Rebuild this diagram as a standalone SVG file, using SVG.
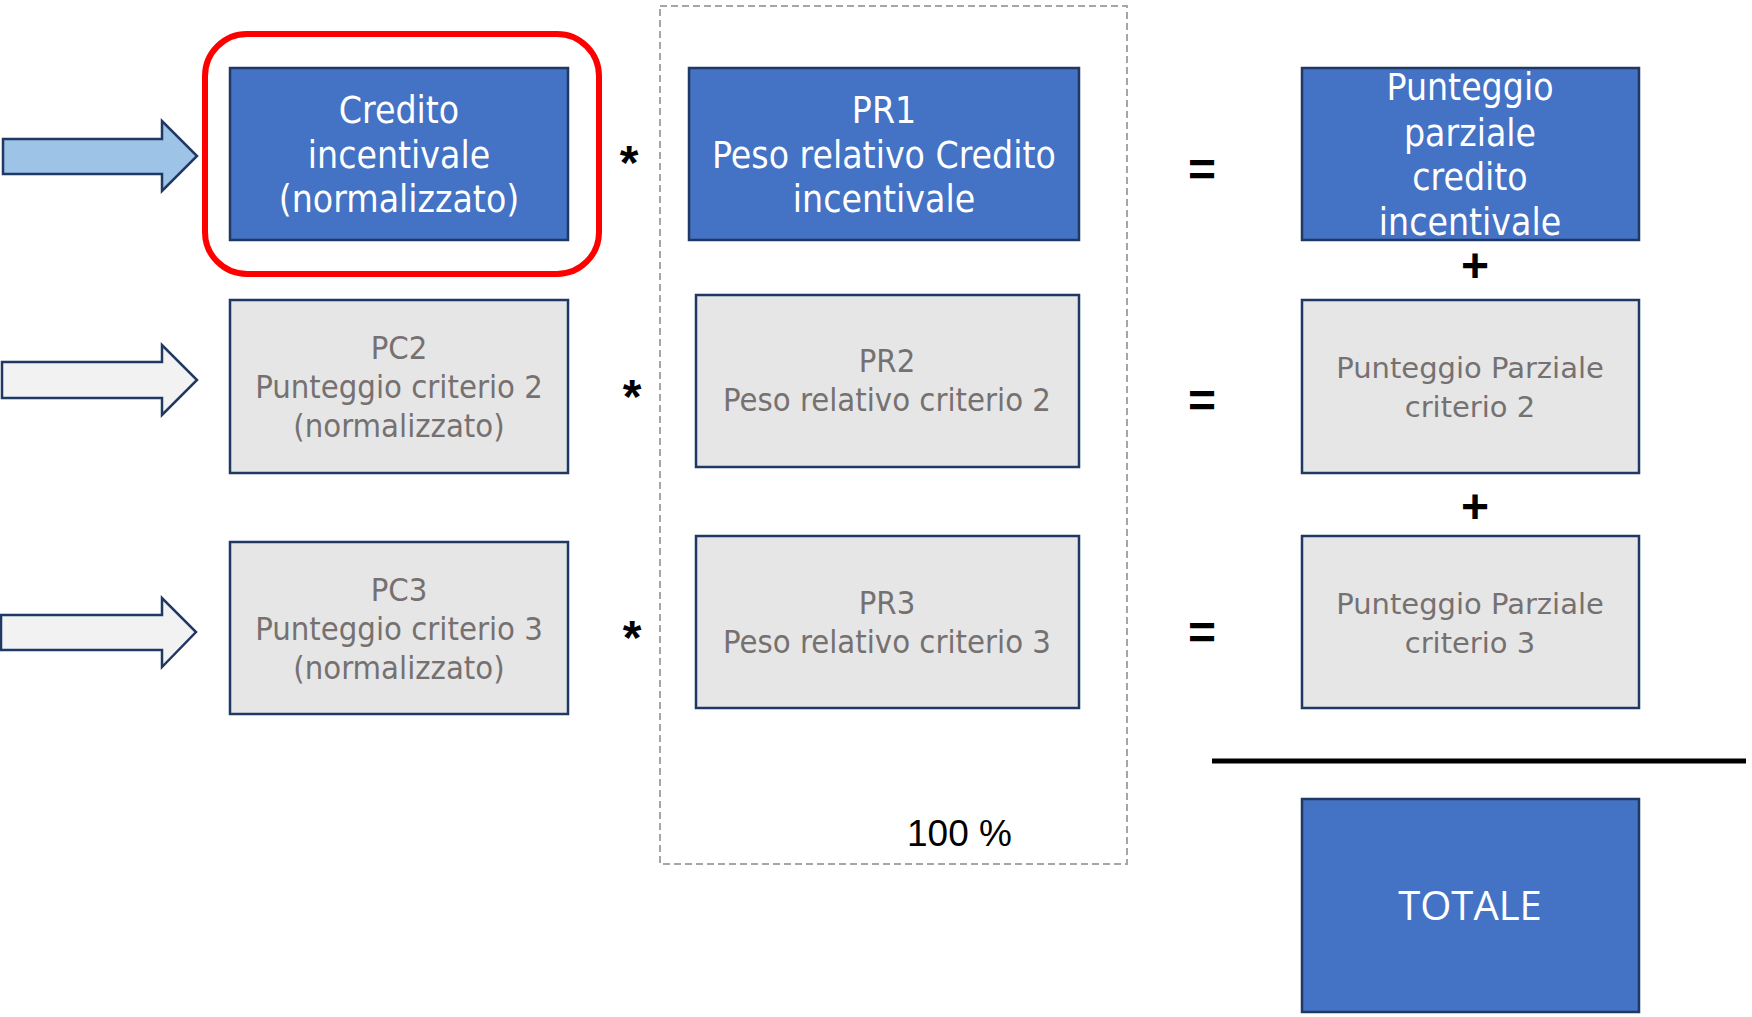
<svg xmlns="http://www.w3.org/2000/svg" width="1752" height="1017" viewBox="0 0 1752 1017">
<style>
.blue{fill:#4472C4;stroke:#1F3864;stroke-width:2.5}
.gray{fill:#E6E6E6;stroke:#1F3864;stroke-width:2.5}
.tb{font-family:"DejaVu Sans Condensed","DejaVu Sans",sans-serif;font-size:37px;fill:#FFFFFF;text-anchor:middle}
.tg{font-family:"DejaVu Sans Condensed","DejaVu Sans",sans-serif;font-size:32.5px;fill:#767171;text-anchor:middle}
.tp{font-family:"DejaVu Sans",sans-serif;font-size:29px;fill:#767171;text-anchor:middle}
.op{font-family:"Liberation Sans",Arial,sans-serif;font-size:48px;font-weight:bold;fill:#000;text-anchor:middle}
.arr{stroke:#1F3864;stroke-width:2.5;stroke-linejoin:miter}
</style>
<rect width="1752" height="1017" fill="#FFFFFF"/>
<g id="weights-frame">
<rect x="660" y="6" width="467" height="858" fill="none" stroke="#A6A6A6" stroke-width="2" stroke-dasharray="7 4"/>
<text x="907" y="846" font-family="'Liberation Sans',Arial,sans-serif" font-size="37" fill="#000">100 %</text>
</g>
<g id="connectors">
<polygon class="arr" fill="#9DC3E6" points="3,139 162,139 162,121 197,156 162,191 162,174 3,174"/>
<polygon class="arr" fill="#F2F2F2" points="2,362 162,362 162,345 197,380 162,415 162,398 2,398"/>
<polygon class="arr" fill="#F2F2F2" points="1,615 162,615 162,598 196,632 162,667 162,650 1,650"/>
</g>
<g id="highlight">
<rect x="205" y="34" width="394" height="240" rx="42" ry="42" fill="none" stroke="#FF0000" stroke-width="6"/>
</g>
<g id="node-credito">
<rect class="blue" x="230" y="68" width="338" height="172"/>
<text class="tb"><tspan x="399" y="123">Credito</tspan><tspan x="399" y="168">incentivale</tspan><tspan x="399" y="212">(normalizzato)</tspan></text>
</g>
<g id="node-pc2">
<rect class="gray" x="230" y="300" width="338" height="173"/>
<text class="tg"><tspan x="399" y="359">PC2</tspan><tspan x="399" y="398">Punteggio criterio 2</tspan><tspan x="399" y="437">(normalizzato)</tspan></text>
</g>
<g id="node-pc3">
<rect class="gray" x="230" y="542" width="338" height="172"/>
<text class="tg"><tspan x="399" y="601">PC3</tspan><tspan x="399" y="640">Punteggio criterio 3</tspan><tspan x="399" y="679">(normalizzato)</tspan></text>
</g>
<g id="node-pr1">
<rect class="blue" x="689" y="68" width="390" height="172"/>
<text class="tb"><tspan x="884" y="123">PR1</tspan><tspan x="884" y="168">Peso relativo Credito</tspan><tspan x="884" y="212">incentivale</tspan></text>
</g>
<g id="node-pr2">
<rect class="gray" x="696" y="295" width="383" height="172"/>
<text class="tg"><tspan x="887" y="372">PR2</tspan><tspan x="887" y="411">Peso relativo criterio 2</tspan></text>
</g>
<g id="node-pr3">
<rect class="gray" x="696" y="536" width="383" height="172"/>
<text class="tg"><tspan x="887" y="614">PR3</tspan><tspan x="887" y="653">Peso relativo criterio 3</tspan></text>
</g>
<g id="node-pp1">
<rect class="blue" x="1302" y="68" width="337" height="172"/>
<text class="tb"><tspan x="1470" y="100">Punteggio</tspan><tspan x="1470" y="146">parziale</tspan><tspan x="1470" y="190">credito</tspan><tspan x="1470" y="235">incentivale</tspan></text>
</g>
<g id="node-pp2">
<rect class="gray" x="1302" y="300" width="337" height="173"/>
<text class="tp"><tspan x="1470" y="378">Punteggio Parziale</tspan><tspan x="1470" y="417">criterio 2</tspan></text>
</g>
<g id="node-pp3">
<rect class="gray" x="1302" y="536" width="337" height="172"/>
<text class="tp"><tspan x="1470" y="614">Punteggio Parziale</tspan><tspan x="1470" y="653">criterio 3</tspan></text>
</g>
<g id="node-totale">
<rect class="blue" x="1302" y="799" width="337" height="213"/>
<text x="1470" y="920" font-family="'Open Sans',sans-serif" font-size="40" fill="#FFFFFF" text-anchor="middle">TOTALE</text>
</g>
<g id="operators">
<text class="op" x="629" y="179">*</text>
<text class="op" x="632" y="413">*</text>
<text class="op" x="632" y="654">*</text>
<text class="op" x="1202" y="186">=</text>
<text class="op" x="1202" y="417">=</text>
<text class="op" x="1202" y="649">=</text>
<text class="op" x="1475" y="282">+</text>
<text class="op" x="1475" y="523">+</text>
<line x1="1212" y1="761" x2="1746" y2="761" stroke="#000" stroke-width="5"/>
</g>
</svg>
